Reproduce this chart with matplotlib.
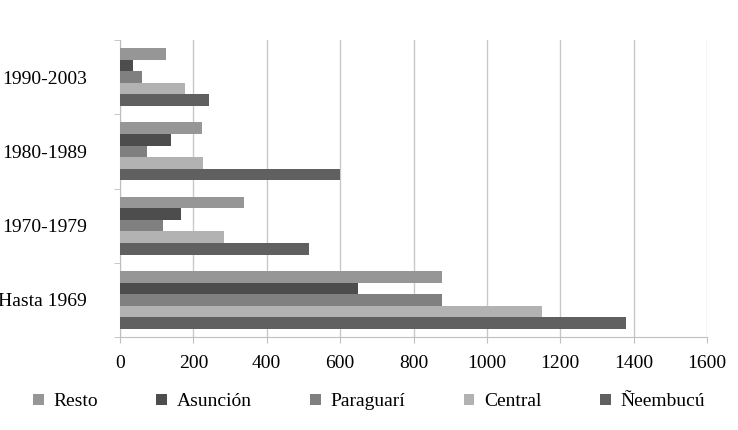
import numpy as np
import matplotlib
matplotlib.use("Agg")
import matplotlib.pyplot as plt

plt.rcParams["font.family"] = ["Liberation Serif", "DejaVu Serif"]

periods = ["Hasta 1969", "1970-1979", "1980-1989", "1990-2003"]
series = ["Resto", "Asunción", "Paraguarí", "Central", "Ñeembucú"]
resto = [879, 337, 224, 125]
asuncion = [648, 166, 138, 35]
paraguari = [878, 116, 74, 60]
central = [1150, 283, 226, 176]
neembucu = [1379, 515, 601, 243]
values = [resto, asuncion, paraguari, central, neembucu]
colors = ["#969696", "#4d4d4d", "#808080", "#b2b2b2", "#606060"]

fig = plt.figure(figsize=(7.38, 4.30), dpi=100)
ax = fig.add_axes([120 / 738, 1 - 337 / 430, 587 / 738, 297 / 430])

y = np.arange(len(periods))
h = 0.156
for i, (name, vals, c) in enumerate(zip(series, values, colors)):
    ax.barh(y + (2 - i) * h, vals, height=h, color=c, label=name, zorder=3)

ax.set_xlim(0, 1600)
ax.set_ylim(-0.5, 3.5)
ax.set_xticks(range(0, 1601, 200))
ax.set_yticks(y)
ax.set_yticklabels(periods)
ax.set_yticks(np.arange(-0.5, 3.6, 1), minor=True)
ax.tick_params(axis="y", which="major", length=0, pad=24, labelsize=14)
ax.tick_params(axis="y", which="minor", length=4, color="#bfbfbf")
ax.tick_params(axis="x", length=4, color="#bfbfbf", labelsize=14, pad=9)
ax.grid(axis="x", color="#c8c8c8", lw=1, zorder=0)
for s in ["top", "right"]:
    ax.spines[s].set_visible(False)
for s in ["left", "bottom"]:
    ax.spines[s].set_color("#bfbfbf")

fig.legend(loc="center", bbox_to_anchor=(0.5, 1 - 402 / 430), ncol=5, frameon=False,
           fontsize=14, handlelength=0.55, handleheight=0.55, columnspacing=3.0,
           handletextpad=0.5)
fig.savefig("out.png", dpi=100)
